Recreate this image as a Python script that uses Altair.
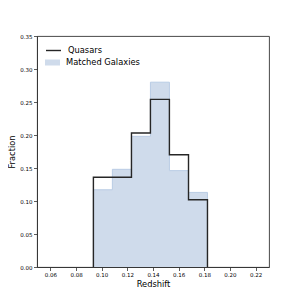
import altair as alt
import pandas as pd

edges = [0.0935, 0.1083, 0.1232, 0.1380, 0.1528, 0.1677, 0.1825]
quasars = [0.136, 0.136, 0.203, 0.254, 0.170, 0.102]
galaxies = [0.117, 0.148, 0.198, 0.280, 0.146, 0.113]
x_ticks = [0.06, 0.08, 0.10, 0.12, 0.14, 0.16, 0.18, 0.20, 0.22]
y_ticks = [0.00, 0.05, 0.10, 0.15, 0.20, 0.25, 0.30, 0.35]


def outline(vals, name):
    xs_ = [edges[0]] + edges[:-1] + [edges[-1], edges[-1]]
    ys_ = [0.0] + vals + [vals[-1], 0.0]
    return pd.DataFrame({"x": xs_, "y": ys_, "o": list(range(len(xs_))), "s": name})


qdf = outline(quasars, "Quasars")
godf = outline(galaxies, "Matched Galaxies")
gdf = pd.DataFrame({"x": edges[:-1] + [edges[-1]], "y": galaxies + [galaxies[-1]],
                    "s": "Matched Galaxies"})

font = "DejaVu Sans"
xs = alt.Scale(domain=[0.0495, 0.2305], nice=False, zero=False)
ys = alt.Scale(domain=[0, 0.35], nice=False)

xax = alt.Axis(values=x_ticks, format=".2f", title="Redshift", grid=False, labelOverlap=False)
yax = alt.Axis(values=y_ticks, format=".2f", title="Fraction", grid=False, labelOverlap=False)

gal = alt.Chart(gdf).mark_area(
    interpolate="step-after", fillOpacity=1, strokeWidth=0
).encode(
    x=alt.X("x:Q", scale=xs, axis=xax),
    y=alt.Y("y:Q", scale=ys, axis=yax, stack=None),
    fill=alt.Fill("s:N", scale=alt.Scale(domain=["Matched Galaxies"], range=["#cfdbeb"]),
                  legend=alt.Legend(title=None, orient="none", legendX=8, legendY=19,
                                    symbolType="M-1,-0.4H1V0.4H-1Z", symbolSize=225,
                                    labelFontSize=8.3, labelFont=font, labelColor="#000",
                                    padding=0, labelOffset=6, symbolStrokeWidth=0)),
)

gal_edge = alt.Chart(godf).mark_line(
    interpolate="step-after", strokeWidth=1, color="#b9cce4"
).encode(
    x=alt.X("x:Q", scale=xs, axis=xax),
    y=alt.Y("y:Q", scale=ys, axis=yax),
    order="o:Q",
)

qua = alt.Chart(qdf).mark_line(
    interpolate="step-after", strokeWidth=1.4
).encode(
    x=alt.X("x:Q", scale=xs, axis=xax),
    y=alt.Y("y:Q", scale=ys, axis=yax),
    order="o:Q",
    stroke=alt.Stroke("s:N", scale=alt.Scale(domain=["Quasars"], range=["#262626"]),
                      legend=alt.Legend(title=None, orient="none", legendX=8, legendY=6,
                                        symbolType="stroke", symbolSize=225,
                                        symbolStrokeWidth=1.4,
                                        labelFontSize=8.3, labelFont=font, labelColor="#000",
                                        padding=0, labelOffset=6)),
)

chart = alt.layer(gal, gal_edge, qua).resolve_scale(fill="independent", stroke="independent").properties(
    width=232, height=231,
    autosize=alt.AutoSizeParams(type="none"),
    padding={"left": 29, "top": 28, "right": 22, "bottom": 24},
).configure_view(
    stroke="#333", strokeWidth=0.9
).configure_axis(
    labelFont=font, titleFont=font, labelFontSize=5.5, titleFontSize=8.3,
    labelColor="#000", titleColor="#000", titleFontWeight="normal",
    domainColor="#333", tickColor="#333", tickSize=3.5, domainWidth=0.9, tickWidth=0.8,
    labelPadding=1.5, labelOverlap=False,
).configure_axisY(
    titlePadding=3
).configure_axisX(
    titlePadding=2
)

chart.save("out.html", embed_options={"renderer": "svg", "actions": False})
